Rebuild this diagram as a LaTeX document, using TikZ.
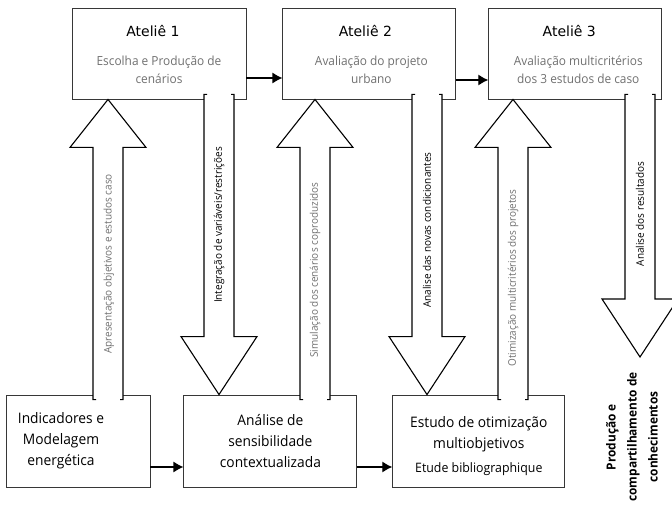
\documentclass[tikz,border=0pt]{standalone}
\usepackage{fontspec}
\setmainfont{Open Sans}[FakeStretch=0.95]
\newfontfamily\titlefont{DejaVu Sans}
\usetikzlibrary{positioning,arrows.meta,calc}
\definecolor{boxgray}{RGB}{55,55,55}
\definecolor{textgray}{RGB}{112,112,112}
\tikzset{
    box/.style = {
        draw=boxgray,
        shape=rectangle,
        minimum width=173pt,
        minimum height=91pt,
        line width=0.9pt,
        inner sep=0pt
    },
    ateliertitle/.style = {
        font=\titlefont\fontsize{14}{18}\selectfont,
        inner sep=0pt,
        anchor=base
    },
    atelierdesc/.style = {
        font=\fontsize{12.5}{18}\selectfont,
        text=textgray,
        align=center,
        inner sep=0pt,
        anchor=north
    },
    boxtext/.style = {
        font=\fontsize{14.5}{21}\selectfont,
        align=center,
        inner sep=0pt
    },
    flowlabel/.style = {
        font=\fontsize{10.5}{12}\selectfont,
        rotate=90,
        inner sep=0pt
    },
    bigarrow/.style = {
        draw=black,
        fill=white,
        line width=1.1pt,
        line join=miter
    },
    link/.style = {
        -{Latex[length=10pt,width=11pt]},
        line width=1.2pt
    },
}
% block arrow pointing up: x coordinate, lower node, upper node
\newcommand{\blockup}[3]{%
    \draw[bigarrow] ($(#2.north -| #1)+(-12,5)$) -- ++(-3,0)
        -- ($(#3.south -| #1)+(-15,48)$) -- ++(-23,0) -- (#3.south -| #1)
        -- ($(#3.south -| #1)+(38,48)$) -- ++(-23,0)
        -- ($(#2.north -| #1)+(15,5)$) -- ++(-3,0);
}
% block arrow pointing down: x coordinate, upper node, target point
\newcommand{\blockdown}[3]{%
    \draw[bigarrow] ($(#2.south -| #1)+(-12,-5)$) -- ++(-3,0)
        -- ($(#3 -| #1)+(-15,-58)$) -- ++(-23,0) -- (#3 -| #1)
        -- ($(#3 -| #1)+(38,-58)$) -- ++(-23,0)
        -- ($(#2.south -| #1)+(15,-5)$) -- ++(-3,0);
}

\begin{document}
\begin{tikzpicture}[x=1pt, y=-1pt]
        \clip (0,0) rectangle (672,505);

        % ateliers
        \node[box, minimum width=174pt] (atelier1) at (159,53.5) {};
        \node[box, right=36pt of atelier1] (atelier2) {};
        \node[box, right=32pt of atelier2] (atelier3) {};

        \node[ateliertitle] (t1) at ([xshift=-6pt, yshift=-29pt]atelier1.north) {Ateliê 1};
        \node[ateliertitle] (t2) at ([xshift=-4pt, yshift=-29pt]atelier2.north) {Ateliê 2};
        \node[ateliertitle] (t3) at ([xshift=-6pt, yshift=-29pt]atelier3.north) {Ateliê 3};
        \node[atelierdesc] (d1) at ([yshift=-48.5pt]atelier1.north) {Escolha e Produção de\\cenários};
        \node[atelierdesc] (d2) at ([xshift=2pt, yshift=-48.5pt]atelier2.north) {Avaliação do projeto\\urbano};
        \node[atelierdesc] (d3) at ([xshift=3pt, yshift=-48.5pt]atelier3.north) {Avaliação multicritérios\\dos 3 estudos de caso};

        % bottom boxes
        \node[box, minimum width=144pt, minimum height=92pt] (indic) at (78,441) {};
        \node[box, minimum height=92pt, right=33pt of indic] (sens) {};
        \node[box, minimum width=172pt, minimum height=92pt, right=35pt of sens] (otim) {};

        \node[boxtext] (indictxt) at ([xshift=-17pt]indic.center) {Indicadores e\\Modelagem\\energética};
        \node[boxtext] (senstxt) at (sens.center) {Análise de\\sensibilidade\\contextualizada};
        \node[boxtext] (otimtxt) at ([yshift=-5pt]otim.center) {Estudo de otimização\\multiobjetivos\\[3pt]{\fontsize{13}{21}\selectfont Etude bibliographique}};

        % horizontal links
        \draw[link] ([yshift=-24.5pt]atelier1.east) -- ([yshift=-24.5pt]atelier2.west);
        \draw[link] ([yshift=-26.5pt]atelier2.east) -- ([yshift=-26.5pt]atelier3.west);
        \draw[link] ([yshift=-26pt]indic.east) -- ([yshift=-26pt]sens.west);
        \draw[link] ([yshift=-26pt]sens.east) -- ([yshift=-26pt]sens.east -| otim.west);

        % block arrows
        \coordinate (apres) at (108,0);
        \coordinate (integ) at (219,0);
        \coordinate (simul) at (315,0);
        \coordinate (condic) at (427,0);
        \coordinate (otimiz) at (513,0);
        \coordinate (result) at (640,0);
        \coordinate (resend) at (640,357);

        \blockup{apres}{indic}{atelier1}
        \blockdown{integ}{atelier1}{sens.north}
        \blockup{simul}{sens}{atelier2}
        \blockdown{condic}{atelier2}{otim.north}
        \blockup{otimiz}{otim}{atelier3}
        \blockdown{result}{atelier3}{resend}

        \node[flowlabel, text=textgray] (l1) at (109,264) {Apresentação objetivos e estudos caso};
        \node[flowlabel] (l2) at (219,225) {Integração de variáveis/restrições};
        \node[flowlabel, text=textgray] (l3) at (315,270) {Simulação dos cenários coproduzidos};
        \node[flowlabel] (l4) at (427,230) {Analise das novas condicionantes};
        \node[flowlabel, text=textgray] (l5) at (513,278) {Otimização multicritérios dos projetos};
        \node[flowlabel] (l6) at (640,214) {Analise dos resultados};

        % outcome
        \node[boxtext, rotate=90, font=\bfseries\fontsize{12.5}{21}\selectfont] (prod) at (632,437) {Produção e\\compartilhamento de\\conhecimentos};
    \end{tikzpicture}
\end{document}
